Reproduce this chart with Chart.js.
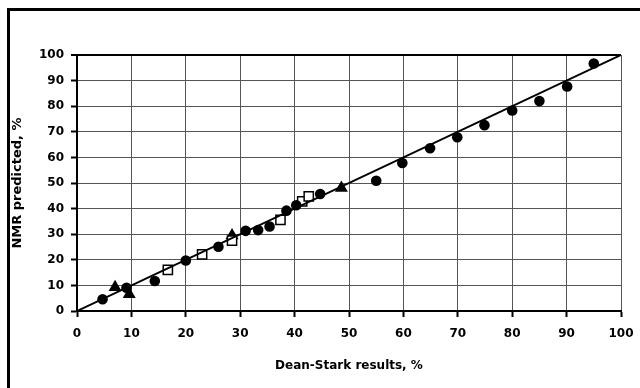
<!DOCTYPE html>
<html>
<head>
<meta charset="utf-8">
<script src="https://cdn.jsdelivr.net/npm/chart.js@4"></script>
<style>
  html, body { margin: 0; padding: 0; background: #fff; }
  #wrap { width: 640px; height: 388px; position: relative; }
</style>
</head>
<body>
<div id="wrap"><canvas id="scatterChart" width="640" height="388"></canvas></div>
<script>
// Dean-Stark vs NMR predicted (%)
const circlesX = [4.7, 9.1, 14.3, 20.0, 26.0, 31.0, 33.3, 35.4, 38.5, 40.3, 44.7, 55.0, 59.8, 64.9, 69.9, 74.9, 80.0, 85.0, 90.1, 95.0];
const circlesY = [4.6, 9.1, 11.7, 19.7, 25.1, 31.3, 31.6, 33.0, 39.2, 41.3, 45.7, 50.9, 57.8, 63.6, 67.9, 72.6, 78.3, 82.0, 87.7, 96.7];
const squaresX = [16.7, 23.0, 28.5, 37.4, 41.4, 42.6];
const squaresY = [16.1, 22.1, 27.5, 35.6, 42.8, 44.8];
const trianglesX = [7.0, 9.6, 28.5, 48.6];
const trianglesY = [9.3, 6.5, 29.5, 48.0];
const lineX = [0, 100];
const lineY = [0, 100];
const tickValues = [0, 10, 20, 30, 40, 50, 60, 70, 80, 90, 100];

const toPoints = (xs, ys) => xs.map((x, i) => ({ x: x, y: ys[i] }));

// outer frame of the figure (left and top edges show)
const framePlugin = {
  id: 'frame',
  beforeDraw(chart) {
    const ctx = chart.ctx;
    ctx.save();
    ctx.fillStyle = '#fff';
    ctx.fillRect(0, 0, chart.width, chart.height);
    ctx.strokeStyle = '#000';
    ctx.lineWidth = 3;
    ctx.beginPath();
    ctx.moveTo(8.5, chart.height + 5);
    ctx.lineTo(8.5, 9.5);
    ctx.lineTo(chart.width + 5, 9.5);
    ctx.stroke();
    ctx.restore();
  }
};

const font = { family: 'DejaVu Sans', size: 12, weight: 'bold' };

new Chart(document.getElementById('scatterChart').getContext('2d'), {
  type: 'scatter',
  data: {
    datasets: [
      {
        type: 'line',
        data: toPoints(lineX, lineY),
        borderColor: '#000',
        borderWidth: 2,
        pointRadius: 0,
        fill: false,
        order: 0
      },
      {
        data: toPoints(circlesX, circlesY),
        pointStyle: 'circle',
        pointRadius: 5.3,
        backgroundColor: '#000',
        borderColor: '#000',
        borderWidth: 0,
        order: 1
      },
      {
        data: toPoints(squaresX, squaresY),
        pointStyle: 'rect',
        pointRadius: 6.5,
        backgroundColor: '#fff',
        borderColor: '#000',
        borderWidth: 1.5,
        order: 2
      },
      {
        data: toPoints(trianglesX, trianglesY),
        pointStyle: 'triangle',
        pointRadius: 7.5,
        backgroundColor: '#000',
        borderColor: '#000',
        borderWidth: 0,
        order: 3
      }
    ]
  },
  options: {
    responsive: false,
    animation: false,
    layout: { autoPadding: false, padding: { left: 10, top: 55, right: 19, bottom: 0 } },
    plugins: { legend: { display: false }, tooltip: { enabled: false } },
    scales: {
      x: {
        type: 'linear',
        min: 0,
        max: 100,
        afterFit(scale) {
          scale.height = 77;
          scale.paddingLeft = 0;
          scale.paddingRight = 0;
        },
        afterBuildTicks(scale) { scale.ticks = tickValues.map(v => ({ value: v })); },
        ticks: { color: '#000', font: font, padding: 10, maxRotation: 0 },
        grid: {
          color: '#555',
          lineWidth: 1,
          tickColor: '#000',
          tickLength: 6,
          tickWidth: 2
        },
        border: { color: '#000', width: 2 },
        title: {
          display: true,
          text: 'Dean-Stark results, %',
          color: '#000',
          font: font,
          padding: { top: 0, bottom: 15 }
        }
      },
      y: {
        type: 'linear',
        min: 0,
        max: 100,
        afterFit(scale) {
          scale.width = 67;
          scale.paddingTop = 0;
          scale.paddingBottom = 0;
        },
        afterBuildTicks(scale) { scale.ticks = tickValues.map(v => ({ value: v })); },
        ticks: { color: '#000', font: font, padding: 7 },
        grid: {
          color: ctx => (ctx.tick && ctx.tick.value === 100 ? '#000' : '#555'),
          lineWidth: ctx => (ctx.tick && ctx.tick.value === 100 ? 2 : 1),
          tickColor: '#000',
          tickLength: 6,
          tickWidth: 2
        },
        border: { color: '#000', width: 2 },
        title: {
          display: true,
          text: 'NMR predicted, %',
          color: '#000',
          font: { family: 'DejaVu Sans', size: 13, weight: 'bold' },
          padding: { top: 0, bottom: 0 }
        }
      }
    }
  },
  plugins: [framePlugin]
});
</script>
</body>
</html>
